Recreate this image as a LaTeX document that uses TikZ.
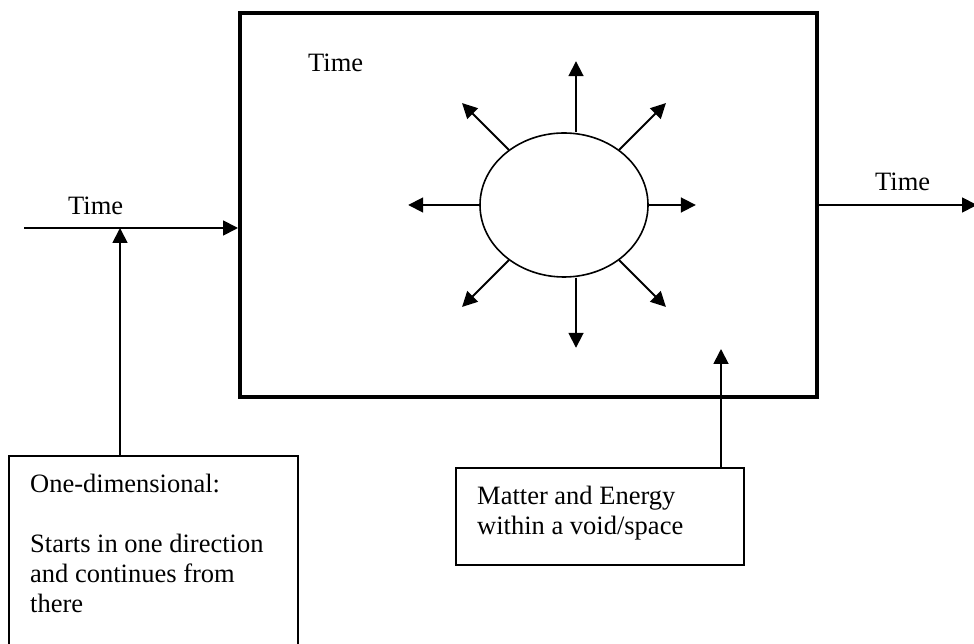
\documentclass[tikz,border=0pt]{standalone}
\usepackage{fontspec}
\setmainfont{Liberation Serif}
\usepackage{tikz}
\usetikzlibrary{shapes.geometric,arrows.meta,positioning}

\begin{document}
\begin{tikzpicture}[
    x=1pt, y=1pt,
    every node/.style={font=\fontsize{26.5}{30}\selectfont},
    world/.style={rectangle, draw, line width=4pt, minimum width=577pt, minimum height=384pt},
    notebox/.style={rectangle, draw, line width=1.6pt, inner sep=0pt},
    words/.style={anchor=base west, inner sep=0pt, align=left},
    arrow/.style={-{Triangle[length=15pt,width=15pt]}, line width=1.8pt}
]
    \useasboundingbox (0,0) rectangle (974,643);

    \node[world] (world) at (528.5,438) {};
    \node[ellipse, draw, line width=1.6pt, minimum width=168pt, minimum height=144pt, inner sep=0pt] (blob) at (564,438) {};
    \node[words] (intime) at (308,571) {Time};
    \node[words] (pasttime) at (68,428) {Time};
    \node[words] (futuretime) at (875,452) {Time};

    \node[notebox, minimum width=289pt, minimum height=207pt] (onebox) at (153.5,83.5) {};
    \node[words] (onetext) at (30,31) {One-dimensional:\\[30pt]Starts in one direction\\and continues from\\there};
    \node[notebox, minimum width=288pt, minimum height=97pt] (matterbox) at (600,126.5) {};
    \node[words] (mattertext) at (477,109) {Matter and Energy\\within a void/space};

    \coordinate (tin) at (24,415);
    \coordinate (meet) at (120,415);
    \coordinate (tout) at (977,438);
    \coordinate (mtip) at (721,294);

    \foreach \a/\l in {0/47, 180/71, 45/66, 135/66, 225/66, 315/66}
        \draw[arrow] (blob.\a) -- ++(\a:\l pt);
    \draw[arrow] ([xshift=12pt]blob.north) -- ++(0,71);
    \draw[arrow] ([xshift=12pt]blob.south) -- ++(0,-70);

    \draw[arrow] (tin) -- (tin -| world.west);
    \draw[arrow] (world.east) -- (tout);
    \draw[arrow] (meet |- onebox.north) -- (meet);
    \draw[arrow] (mtip |- matterbox.north) -- (mtip);
\end{tikzpicture}
\end{document}
